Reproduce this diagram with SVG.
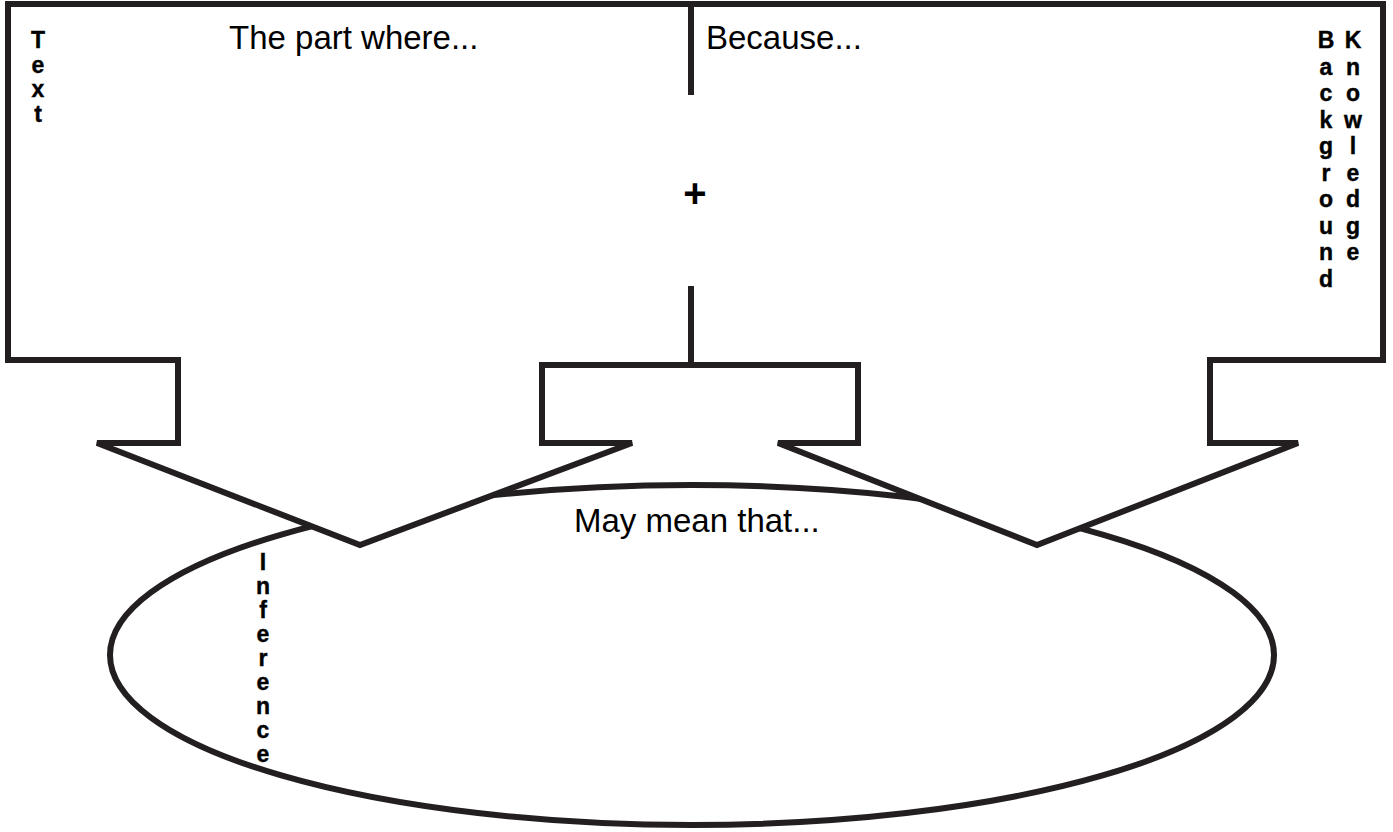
<svg xmlns="http://www.w3.org/2000/svg" width="1393" height="832" viewBox="0 0 1393 832">
<style>
.ln{fill:none;stroke:#231f20;stroke-width:6;stroke-linejoin:miter;stroke-miterlimit:4}
.sh{fill:#fff;stroke:#231f20;stroke-width:6;stroke-linejoin:miter;stroke-miterlimit:4}
.hd{font-family:"Liberation Sans",Arial,sans-serif;font-size:33px;fill:#000}
.vt{font-family:"Liberation Sans",Arial,sans-serif;font-size:23px;font-weight:bold;fill:#000;text-anchor:middle;stroke:#000;stroke-width:0.4}
</style>
<rect width="1393" height="832" fill="#fff"/>
<g id="inference-ellipse">
<ellipse class="sh" cx="692" cy="655" rx="582" ry="170"/>
</g>
<g id="frame">
<polygon class="sh" points="8,4 1383,4 1383,360 1210,360 1210,443 1298,443 1037,545 778,443 858,443 858,365 542,365 542,443 632,443 360,545 97,443 178,443 178,360 8,360"/>
</g>
<g id="connectors">
<line class="ln" x1="691" y1="4" x2="691" y2="95"/>
<line class="ln" x1="691" y1="286" x2="691" y2="365"/>
</g>
<g id="text-node">
<text class="hd" x="229" y="48.5">The part where...</text>
<text class="vt"><tspan x="38" y="48">T</tspan><tspan x="38" y="72.5">e</tspan><tspan x="38" y="97">x</tspan><tspan x="38" y="121.5">t</tspan></text>
</g>
<g id="background-node">
<text class="hd" x="706" y="48.5">Because...</text>
<text class="vt"><tspan x="1326" y="48">B</tspan><tspan x="1326" y="74.5">a</tspan><tspan x="1326" y="101">c</tspan><tspan x="1326" y="127.5">k</tspan><tspan x="1326" y="154">g</tspan><tspan x="1326" y="180.5">r</tspan><tspan x="1326" y="207">o</tspan><tspan x="1326" y="233.5">u</tspan><tspan x="1326" y="260">n</tspan><tspan x="1326" y="286.5">d</tspan></text>
<text class="vt"><tspan x="1353" y="48">K</tspan><tspan x="1353" y="74.5">n</tspan><tspan x="1353" y="101">o</tspan><tspan x="1353" y="127.5">w</tspan><tspan x="1353" y="154">l</tspan><tspan x="1353" y="180.5">e</tspan><tspan x="1353" y="207">d</tspan><tspan x="1353" y="233.5">g</tspan><tspan x="1353" y="260">e</tspan></text>
</g>
<g id="plus">
<text x="695" y="207" style="font-family:'Liberation Sans',Arial,sans-serif;font-size:40px;font-weight:bold;text-anchor:middle;fill:#000">+</text>
</g>
<g id="inference-node">
<text class="hd" x="574" y="532">May mean that...</text>
<text class="vt"><tspan x="263" y="570">I</tspan><tspan x="263" y="594">n</tspan><tspan x="263" y="618">f</tspan><tspan x="263" y="642">e</tspan><tspan x="263" y="666">r</tspan><tspan x="263" y="690">e</tspan><tspan x="263" y="714">n</tspan><tspan x="263" y="738">c</tspan><tspan x="263" y="762">e</tspan></text>
</g>
</svg>
